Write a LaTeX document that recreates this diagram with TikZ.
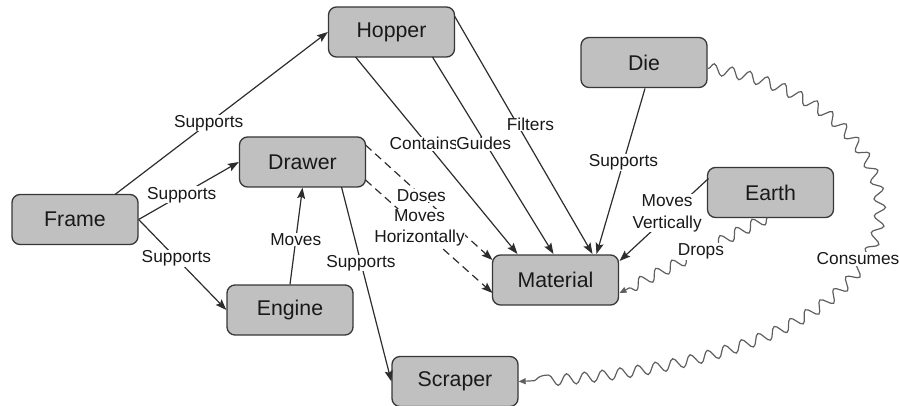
\documentclass[tikz,border=0pt]{standalone}
\usepackage{fontspec}
\setmainfont{Liberation Sans}
\usetikzlibrary{arrows.meta,decorations.pathmorphing,calc}
\definecolor{boxfill}{RGB}{192,192,192}
\definecolor{boxdraw}{RGB}{55,55,55}
\definecolor{linec}{RGB}{45,45,45}
\definecolor{snakec}{RGB}{95,95,95}
\definecolor{txt}{RGB}{25,25,25}
\begin{document}
\begin{tikzpicture}[x=1pt,y=-1pt,
 box/.style={draw=boxdraw, fill=boxfill, rounded corners=8pt, line width=1.3pt, minimum width=126pt, minimum height=50pt, inner sep=0pt, font=\fontsize{21.3}{25}\selectfont, text=txt},
 lbl/.style={fill=white, inner sep=0.5pt, font=\fontsize{17.3}{21.5}\selectfont, text=txt, align=center},
 conn/.style={draw=linec, line width=1.2pt, -{Stealth[length=11pt,width=8pt,inset=2pt]}},
 dconn/.style={conn, dash pattern=on 8pt off 5pt},
 wavy/.style={draw=snakec, line width=1.2pt, decorate, decoration={snake, amplitude=5.5pt, segment length=18pt, post length=7pt}, -{Triangle[length=7pt,width=6pt]}},
]
\useasboundingbox (0,0) rectangle (899,406);

\node[box] (hopper) at (391.5,32) {Hopper};
\node[box] (drawer) at (302.5,162) {Drawer};
\node[box] (frame) at (75,219.5) {Frame};
\node[box] (engine) at (290,310) {Engine};
\node[box] (die) at (644,62.5) {Die};
\node[box] (earth) at (770.5,192.5) {Earth};
\node[box] (material) at (555.5,280) {Material};
\node[box] (scraper) at (455,381.5) {Scraper};

\draw[conn] ($(frame.center)+(40,-25)$) -- node[lbl,pos=0.44]{Supports} (hopper.west);
\draw[conn] (frame.east) -- node[lbl,pos=0.43]{Supports} (drawer.west);
\draw[conn] (frame.east) -- node[lbl,pos=0.43]{Supports} (engine.west);
\draw[conn] (engine.north) -- node[lbl,pos=0.46]{Moves} (drawer.south);
\draw[conn] ($(drawer.center)+(39,25)$) -- node[lbl,pos=0.39]{Supports} (scraper.west);
\draw[dconn] ($(drawer.center)+(63,-17)$) -- node[lbl,pos=0.44]{Doses} ($(material.center)+(-63,-20)$);
\draw[dconn] ($(drawer.center)+(63,18)$) -- node[lbl,pos=0.425]{Moves\\Horizontally} ($(material.center)+(-63,13)$);

\draw[conn] ($(hopper.center)+(-36,25)$) -- node[lbl,pos=0.44,xshift=-3pt]{Contains} ($(material.center)+(-38,-26)$);
\draw[conn] ($(hopper.center)+(41,25)$) -- node[lbl,pos=0.44,xshift=-2pt]{Guides} ($(material.center)+(-2,-26)$);
\draw[conn] ($(hopper.center)+(63,-16)$) -- node[lbl,pos=0.456,xshift=13pt]{Filters} ($(material.center)+(37,-26)$);
\draw[conn] ($(die.center)+(1,26)$) -- node[lbl,pos=0.446]{Supports} ($(material.center)+(41,-26)$);
\draw[conn] ($(earth.center)+(-62,-14)$) -- node[lbl,pos=0.42,xshift=-4pt]{Moves\\Vertically} ($(material.center)+(64,-19)$);

\draw[wavy] ($(earth.center)+(-3,25)$) -- node[lbl,pos=0.45]{Drops} ($(material.center)+(64,13)$);
\draw[wavy] ($(die.center)+(64,6)$) .. controls (930,100) and (990,360) .. (scraper.east);
\node[lbl] (consumes) at (858,259) {Consumes};
\end{tikzpicture}
\end{document}
